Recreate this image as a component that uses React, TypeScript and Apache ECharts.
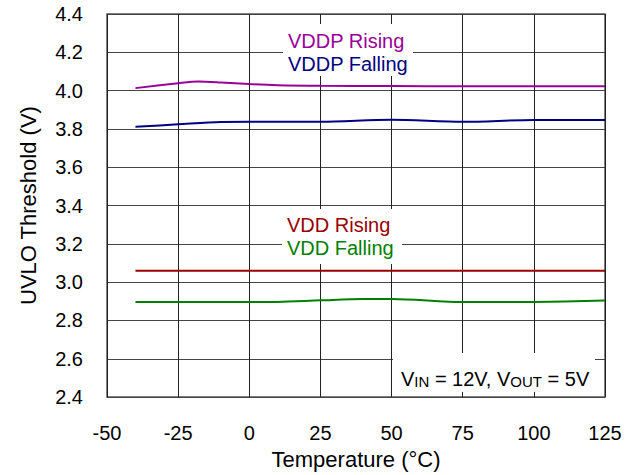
import React, { useEffect, useRef } from "react";
import * as echarts from "echarts";

const xTicks = [-50, -25, 0, 25, 50, 75, 100, 125];
const yTicks = [2.4, 2.6, 2.8, 3.0, 3.2, 3.4, 3.6, 3.8, 4.0, 4.2, 4.4];

const vddpRisingT = [-40, -25, -18, -10, 0, 10, 25, 50, 75, 100, 125];
const vddpRisingV = [4.013, 4.039, 4.048, 4.043, 4.034, 4.028, 4.025, 4.024, 4.023, 4.023, 4.023];

const vddpFallingT = [-40, -25, -10, 0, 25, 50, 75, 100, 125];
const vddpFallingV = [3.811, 3.824, 3.836, 3.837, 3.837, 3.848, 3.837, 3.847, 3.847];

const vddRisingT = [-40, 0, 25, 50, 75, 100, 125];
const vddRisingV = [3.06, 3.06, 3.06, 3.06, 3.06, 3.06, 3.06];

const vddFallingT = [-40, 0, 10, 25, 40, 50, 75, 100, 125];
const vddFallingV = [2.896, 2.896, 2.897, 2.905, 2.912, 2.912, 2.896, 2.897, 2.904];

const seriesNames = ["VDDP Rising", "VDDP Falling", "VDD Rising", "VDD Falling"];
const seriesColors = ["#990099", "#000080", "#990000", "#008000"];

const FONT = "Liberation Sans, Arial, sans-serif";

function zip(t: number[], v: number[]) {
  return t.map((x, i) => [x, v[i]]);
}

export default function App() {
  const ref = useRef<HTMLDivElement>(null);
  useEffect(() => {
    if (!ref.current) return;
    const chart = echarts.init(ref.current, undefined, { renderer: "svg" });
    const data = [
      zip(vddpRisingT, vddpRisingV),
      zip(vddpFallingT, vddpFallingV),
      zip(vddRisingT, vddRisingV),
      zip(vddFallingT, vddFallingV),
    ];
    const labelText = (text: string, x: number, y: number, color: string) => ({
      type: "text",
      x,
      y,
      z: 20,
      style: {
        text,
        fill: color,
        font: `20px ${FONT}`,
        align: "left",
        verticalAlign: "middle",
      },
    });
    chart.setOption({
      animation: false,
      backgroundColor: "#ffffff",
      grid: {
        left: 107,
        top: 14,
        width: 498,
        height: 388,
        show: true,
        borderColor: "#555",
        borderWidth: 1.5,
        backgroundColor: "transparent",
      },
      xAxis: {
        type: "value",
        min: xTicks[0],
        max: xTicks[xTicks.length - 1],
        interval: 25,
        name: "Temperature (°C)",
        nameLocation: "middle",
        nameGap: 48,
        nameTextStyle: { fontFamily: FONT, fontSize: 22, color: "#000" },
        axisLine: { show: false },
        axisTick: { show: false },
        axisLabel: { fontFamily: FONT, fontSize: 20, color: "#000", margin: 26 },
        splitLine: { show: true, lineStyle: { color: "#222", width: 1 } },
      },
      yAxis: {
        type: "value",
        min: yTicks[0],
        max: yTicks[yTicks.length - 1],
        interval: 0.2,
        name: "UVLO Threshold (V)",
        nameLocation: "middle",
        nameGap: 68,
        nameTextStyle: { fontFamily: FONT, fontSize: 22, color: "#000" },
        axisLine: { show: false },
        axisTick: { show: false },
        axisLabel: {
          fontFamily: FONT,
          fontSize: 20,
          color: "#000",
          margin: 24,
          formatter: (v: number) => v.toFixed(1),
        },
        splitLine: { show: true, lineStyle: { color: "#444", width: 1 } },
      },
      series: data.map((d, i) => ({
        type: "line",
        name: seriesNames[i],
        data: d,
        showSymbol: false,
        smooth: 0.3,
        lineStyle: { color: seriesColors[i], width: 2 },
        itemStyle: { color: seriesColors[i] },
        z: 5,
      })),
      graphic: [
        { type: "rect", z: 10, shape: { x: 283, y: 24, width: 130, height: 52 }, style: { fill: "#fff" } },
        { type: "rect", z: 10, shape: { x: 282, y: 209, width: 120, height: 55 }, style: { fill: "#fff" } },
        { type: "rect", z: 10, shape: { x: 393, y: 353, width: 202, height: 39 }, style: { fill: "#fff" } },
        labelText(seriesNames[0], 288, 41, seriesColors[0]),
        labelText(seriesNames[1], 288, 64, seriesColors[1]),
        labelText(seriesNames[2], 287, 225, seriesColors[2]),
        labelText(seriesNames[3], 287, 248, seriesColors[3]),
        {
          type: "text",
          x: 401,
          y: 376,
          z: 20,
          style: {
            text: "{a|V}{s|IN}{a| = 12V, V}{s|OUT}{a| = 5V}",
            fill: "#000",
            align: "left",
            verticalAlign: "middle",
            rich: {
              a: { fontFamily: FONT, fontSize: 20, lineHeight: 26, fill: "#000", verticalAlign: "bottom" },
              s: { fontFamily: FONT, fontSize: 15, lineHeight: 15, fill: "#000", verticalAlign: "bottom" },
            },
          },
        },
      ],
    });
    return () => chart.dispose();
  }, []);
  return (
    <div
      ref={ref}
      style={{ position: "absolute", left: 0, top: 0, width: 635, height: 475 }}
    />
  );
}
